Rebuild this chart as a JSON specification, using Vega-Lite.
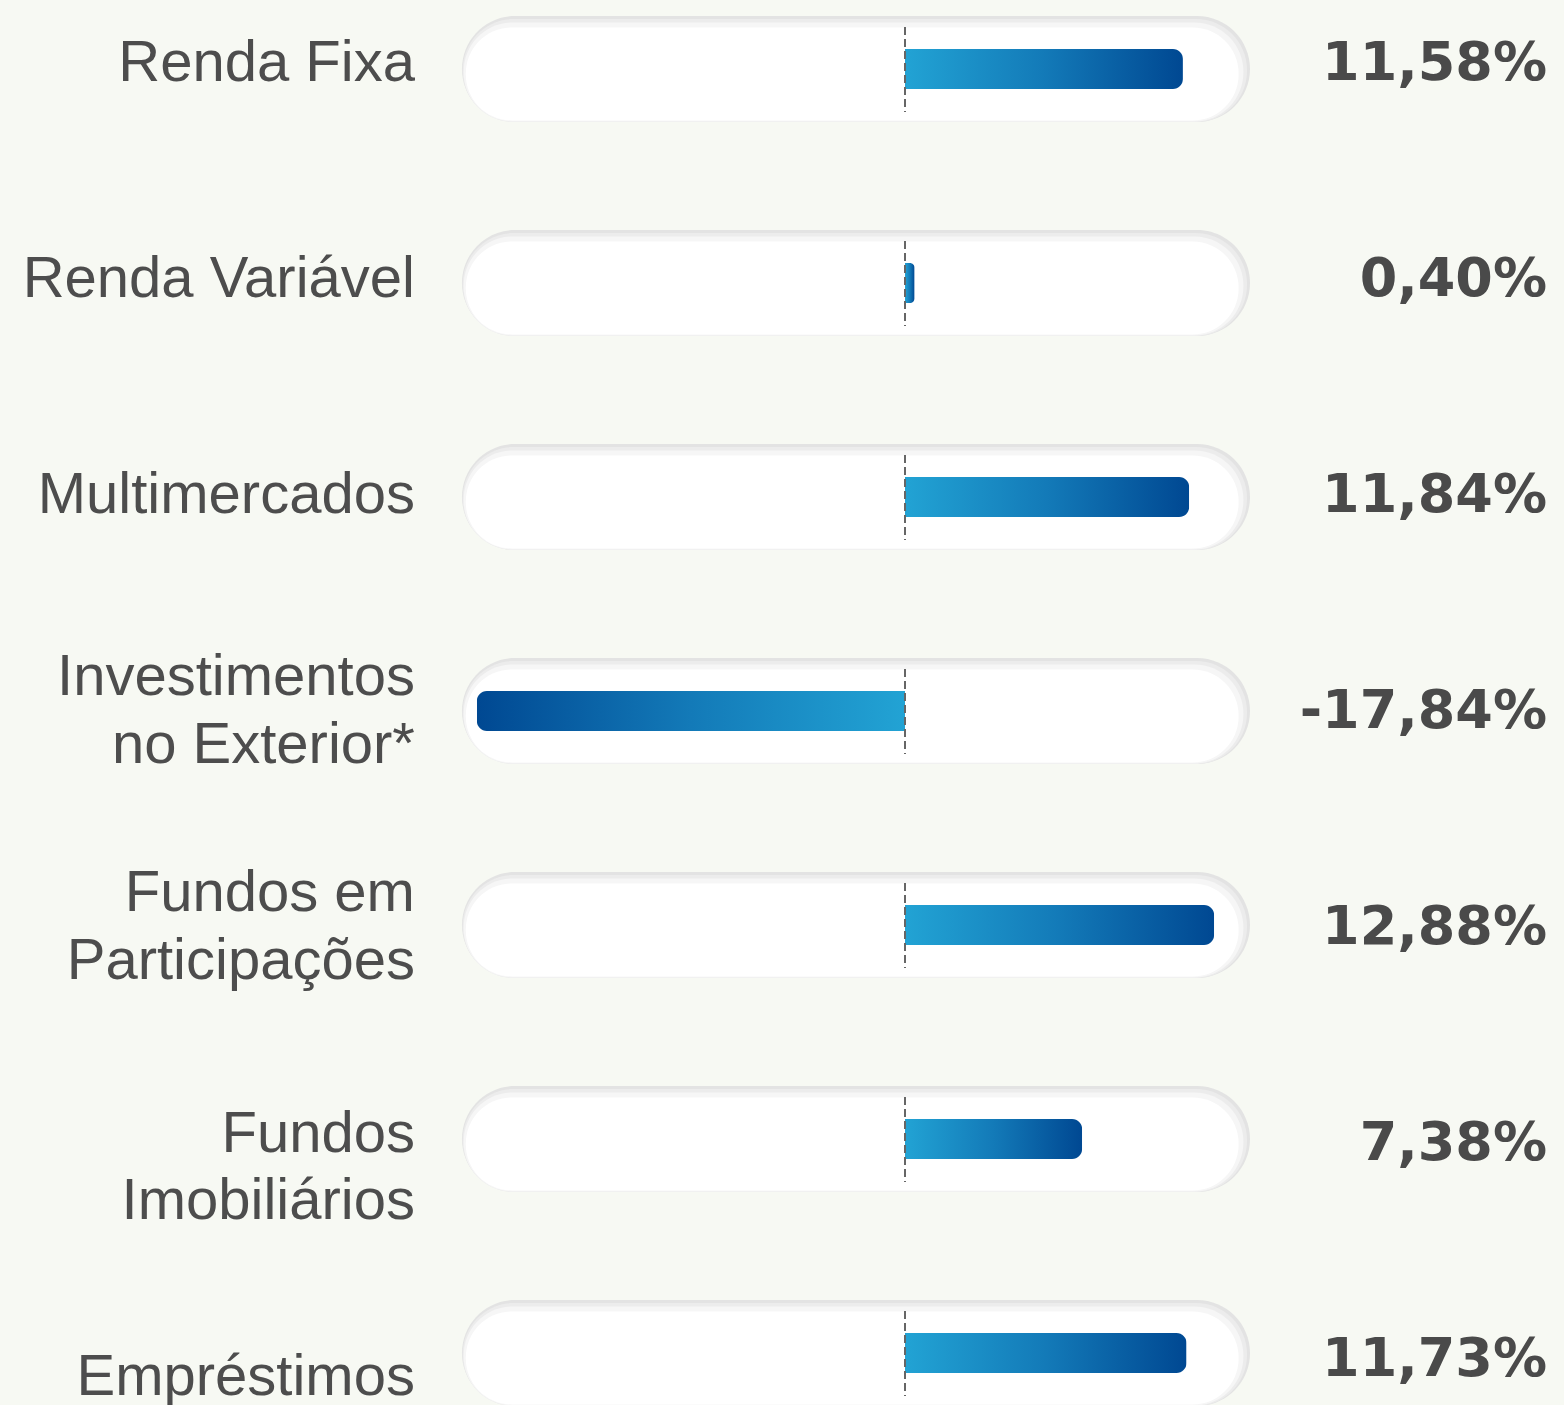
{
  "$schema": "https://vega.github.io/schema/vega-lite/v6.json",
  "width": 1564,
  "height": 1405,
  "autosize": {"type": "none"},
  "padding": 0,
  "background": "#f7f9f3",
  "config": {"view": {"stroke": null}},
  "data": {
    "values": [
      {"cat": "Renda Fixa", "v": 11.58},
      {"cat": "Renda Variável", "v": 0.40},
      {"cat": "Multimercados", "v": 11.84},
      {"cat": "Investimentos\nno Exterior*", "v": -17.84},
      {"cat": "Fundos em\nParticipações", "v": 12.88},
      {"cat": "Fundos\nImobiliários", "v": 7.38},
      {"cat": "Empréstimos", "v": 11.73}
    ]
  },
  "transform": [
    {"calculate": "replace(replace(format(datum.v, '.2f'), '.', ','), '\u2212', '-') + '%'", "as": "vlabel"}
  ],
  "encoding": {
    "y": {
      "field": "cat",
      "type": "nominal",
      "axis": null,
      "scale": {
        "domain": ["Renda Fixa", "Renda Variável", "Multimercados", "Investimentos\nno Exterior*", "Fundos em\nParticipações", "Fundos\nImobiliários", "Empréstimos"],
        "range": [-38, 1460],
        "paddingInner": 0.598,
        "paddingOuter": 0.299
      }
    }
  },
  "resolve": {"scale": {"y": "independent"}},
  "layer": [
    {
      "mark": {"type": "bar", "size": 106, "cornerRadius": 53, "fill": "#e3e3e3"},
      "encoding": {
        "x": {"datum": -18.46, "type": "quantitative", "axis": null, "scale": {"domain": [-37.708, 27.458], "nice": false, "zero": false}},
        "x2": {"datum": 14.375}
      }
    },
    {
      "mark": {"type": "bar", "size": 103, "cornerRadius": 51, "fill": "#ececec", "yOffset": 1.5},
      "encoding": {
        "x": {"datum": -18.43, "type": "quantitative"},
        "x2": {"datum": 14.25}
      }
    },
    {
      "mark": {"type": "bar", "size": 99, "cornerRadius": 49, "fill": "#f6f6f6", "yOffset": 3},
      "encoding": {
        "x": {"datum": -18.39, "type": "quantitative"},
        "x2": {"datum": 14.1}
      }
    },
    {
      "mark": {"type": "bar", "size": 93, "cornerRadius": 46, "fill": "#ffffff", "yOffset": 5},
      "encoding": {
        "x": {"datum": -18.3, "type": "quantitative"},
        "x2": {"datum": 13.9}
      }
    },
    {
      "transform": [{"filter": "datum.v >= 0"}],
      "mark": {
        "type": "bar",
        "size": 40,
        "cornerRadiusTopRight": 10,
        "cornerRadiusBottomRight": 10,
        "fill": {
          "gradient": "linear", "x1": 0, "y1": 0, "x2": 1, "y2": 0,
          "stops": [{"offset": 0, "color": "#22a3d4"}, {"offset": 0.5, "color": "#137ab8"}, {"offset": 1, "color": "#004892"}]
        }
      },
      "encoding": {
        "x": {"field": "v", "type": "quantitative"}
      }
    },
    {
      "transform": [{"filter": "datum.v < 0"}],
      "mark": {
        "type": "bar",
        "size": 40,
        "cornerRadiusTopLeft": 10,
        "cornerRadiusBottomLeft": 10,
        "fill": {
          "gradient": "linear", "x1": 0, "y1": 0, "x2": 1, "y2": 0,
          "stops": [{"offset": 0, "color": "#004892"}, {"offset": 0.5, "color": "#137ab8"}, {"offset": 1, "color": "#22a3d4"}]
        }
      },
      "encoding": {
        "x": {"field": "v", "type": "quantitative"}
      }
    },
    {
      "mark": {"type": "rule", "color": "#666666", "strokeWidth": 2, "strokeDash": [8, 4], "yOffset": -42, "y2Offset": 43},
      "encoding": {
        "x": {"datum": 0, "type": "quantitative"},
        "y2": {"field": "cat"}
      }
    },
    {
      "encoding": {
        "y": {
          "field": "cat",
          "type": "nominal",
          "axis": null,
          "scale": {
            "domain": ["Renda Fixa", "Renda Variável", "Multimercados", "Investimentos\nno Exterior*", "Fundos em\nParticipações", "Fundos\nImobiliários", "Empréstimos"],
            "range": [-47, 1465],
            "paddingInner": 0.598,
            "paddingOuter": 0.299
          }
        }
      },
      "layer": [
        {
          "transform": [{"filter": "indexof(datum.cat, '\\n') < 0 && datum.cat != 'Empréstimos'"}],
          "mark": {"type": "text", "align": "right", "baseline": "middle", "font": "Liberation Sans", "fontSize": 58, "color": "#4d4d4d", "dy": 3},
          "encoding": {
            "x": {"datum": -20.42, "type": "quantitative"},
            "text": {"field": "cat"}
          }
        },
        {
          "transform": [{"filter": "indexof(datum.cat, '\\n') >= 0 && datum.cat != 'Fundos\\nImobiliários'"}],
          "mark": {"type": "text", "align": "right", "baseline": "middle", "font": "Liberation Sans", "fontSize": 58, "color": "#4d4d4d", "lineBreak": "\n", "lineHeight": 68, "dy": -31},
          "encoding": {
            "x": {"datum": -20.42, "type": "quantitative"},
            "text": {"field": "cat"}
          }
        },
        {
          "transform": [{"filter": "datum.cat == 'Fundos\\nImobiliários'"}],
          "mark": {"type": "text", "align": "right", "baseline": "middle", "font": "Liberation Sans", "fontSize": 58, "color": "#4d4d4d", "lineBreak": "\n", "lineHeight": 67, "dy": -6},
          "encoding": {
            "x": {"datum": -20.42, "type": "quantitative"},
            "text": {"field": "cat"}
          }
        },
        {
          "transform": [{"filter": "datum.cat == 'Empréstimos'"}],
          "mark": {"type": "text", "align": "right", "baseline": "middle", "font": "Liberation Sans", "fontSize": 58, "color": "#4d4d4d", "dy": 21},
          "encoding": {
            "x": {"datum": -20.42, "type": "quantitative"},
            "text": {"field": "cat"}
          }
        },
        {
          "mark": {"type": "text", "align": "right", "baseline": "middle", "font": "DejaVu Sans", "fontWeight": "bold", "fontSize": 54, "color": "#4a4a4a", "dy": 3},
          "encoding": {
            "x": {"datum": 26.75, "type": "quantitative"},
            "text": {"field": "vlabel"}
          }
        }
      ]
    }
  ]
}
